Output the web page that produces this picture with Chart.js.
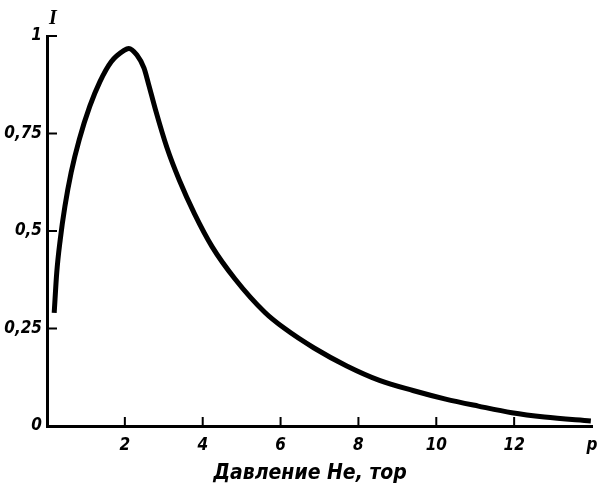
<!DOCTYPE html>
<html>
<head>
<meta charset="utf-8">
<script src="https://cdn.jsdelivr.net/npm/chart.js@4"></script>
<style>
  html, body { margin: 0; padding: 0; background: #fff; }
</style>
</head>
<body>
<canvas id="myChart" width="598" height="489"></canvas>
<script>
// pressure of He, torr
const pressure = [0.185, 0.25, 0.34, 0.46, 0.62, 0.83, 1.1, 1.36, 1.65, 1.98, 2.1, 2.31, 2.49, 2.6, 2.79, 3.08, 3.4, 3.79, 4.24, 4.83, 5.6, 6.09, 6.86, 7.7, 8.54, 9.4, 10.24, 11.08, 11.94, 12.78, 13.97];
// relative intensity I
const intensity = [0.29, 0.393, 0.478, 0.563, 0.65, 0.735, 0.82, 0.883, 0.934, 0.963, 0.968, 0.951, 0.918, 0.88, 0.81, 0.714, 0.63, 0.544, 0.46, 0.377, 0.291, 0.251, 0.2, 0.154, 0.117, 0.091, 0.069, 0.051, 0.034, 0.023, 0.013];

const xTicks = [2, 4, 6, 8, 10, 12, 14];
const xTickLabels = ["2", "4", "6", "8", "10", "12", "p"];
const yTicks = [0, 0.25, 0.5, 0.75, 1];
const yTickLabels = ["0", "0,25", "0,5", "0,75", "1"];
const xTitle = "Давление He, тор";
const yTitle = "I";

const FONT = "'Liberation Sans Narrow', 'DejaVu Sans Condensed', 'Liberation Sans', sans-serif";

// tick marks point inward, and the axis titles sit off the usual places
const innerTicks = {
  id: "innerTicks",
  afterDraw(chart) {
    const { ctx, chartArea, scales } = chart;
    ctx.save();
    ctx.strokeStyle = "#000";
    ctx.lineWidth = 2;
    ctx.beginPath();
    yTicks.forEach((v) => {
      if (v === 0) return;
      const y = scales.y.getPixelForValue(v);
      ctx.moveTo(chartArea.left, y);
      ctx.lineTo(chartArea.left + 10, y);
    });
    xTicks.slice(0, -1).forEach((v) => {
      const x = scales.x.getPixelForValue(v);
      ctx.moveTo(x, chartArea.bottom);
      ctx.lineTo(x, chartArea.bottom - 9);
    });
    ctx.stroke();

    ctx.fillStyle = "#000";
    ctx.textAlign = "center";
    ctx.textBaseline = "middle";
    ctx.font = "italic bold 21px " + FONT;
    ctx.fillText(xTitle, 310, 474);
    ctx.font = "italic bold 20px 'Liberation Serif', serif";
    ctx.fillText(yTitle, 53, 19);
    ctx.restore();
  },
};

const ctx = document.getElementById("myChart").getContext("2d");
const chart = new Chart(ctx, {
  type: "line",
  data: {
    datasets: [
      {
        label: "I",
        data: pressure.map((p, i) => ({ x: p, y: intensity[i] })),
        borderColor: "#000",
        borderWidth: 5,
        pointRadius: 0,
        cubicInterpolationMode: "monotone",
        fill: false,
      },
    ],
  },
  options: {
    responsive: false,
    animation: false,
    devicePixelRatio: 1,
    layout: { padding: { top: 36, right: 6, left: 0, bottom: 0 } },
    plugins: {
      legend: { display: false },
      tooltip: { enabled: false },
    },
    scales: {
      x: {
        type: "linear",
        min: 0,
        max: 14,
        afterFit: (scale) => {
          scale.height = 63;
          // let the "p" label run to the canvas edge
          scale.paddingLeft = 0;
          scale.paddingRight = 0;
        },
        afterBuildTicks: (scale) => {
          scale.ticks = [0].concat(xTicks).map((v) => ({ value: v }));
        },
        grid: { display: false, drawTicks: false },
        border: { display: true, color: "#000", width: 3 },
        ticks: {
          color: "#000",
          padding: 9,
          maxRotation: 0,
          font: { family: FONT, size: 17, style: "italic", weight: "bold" },
          callback: (value) => {
            const i = xTicks.indexOf(value);
            return i >= 0 ? xTickLabels[i] : "";
          },
        },
      },
      y: {
        type: "linear",
        min: 0,
        max: 1,
        afterFit: (scale) => {
          scale.width = 47;
        },
        afterBuildTicks: (scale) => {
          scale.ticks = yTicks.map((v) => ({ value: v }));
        },
        grid: { display: false, drawTicks: false },
        border: { display: true, color: "#000", width: 3 },
        ticks: {
          color: "#000",
          padding: 5,
          font: { family: FONT, size: 17, style: "italic", weight: "bold" },
          callback: (value) => {
            const i = yTicks.indexOf(value);
            return i >= 0 ? yTickLabels[i] : "";
          },
        },
      },
    },
  },
  plugins: [innerTicks],
});
</script>
</body>
</html>
